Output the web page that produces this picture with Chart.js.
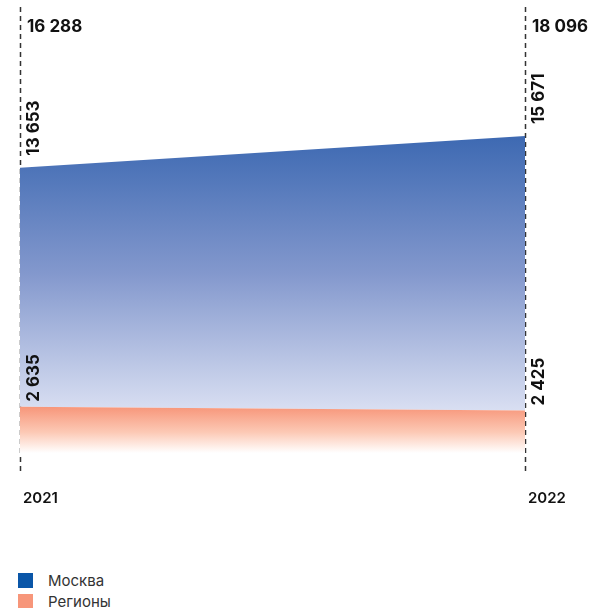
<!DOCTYPE html>
<html>
<head>
<meta charset="utf-8">
<script src="https://cdn.jsdelivr.net/npm/chart.js@4"></script>
<style>
  html, body { margin: 0; padding: 0; background: #fff; }
  #wrap { position: relative; width: 595px; height: 560px; }
  #legend { position: absolute; left: 18px; top: 570px; font-family: Inter, "Noto Sans", sans-serif; font-size: 15px; color: #333; }
  .item { display: flex; align-items: center; height: 21px; }
  .sw { width: 15px; height: 15px; margin-right: 15px; }
</style>
</head>
<body>
<div id="wrap"><canvas id="c"></canvas></div>
<div id="legend"></div>
<script>
const categories = ['2021', '2022'];
const moscow = [13653, 15671];
const regions = [2635, 2425];
const totals = [16288, 18096];
const seriesNames = ['Москва', 'Регионы'];
const legendColors = ['#0a56a8', '#f7967a'];

function fmt(v) { return String(v).replace(/\B(?=(\d{3})+(?!\d))/g, ' '); }

const FONT = 'Inter, "Noto Sans", sans-serif';

const blueFill = (ctx) => {
  const chart = ctx.chart;
  const a = chart.chartArea;
  if (!a) return '#5a7fc0';
  const y = chart.scales.y;
  const top = y.getPixelForValue(Math.max(...totals));
  const bot = y.getPixelForValue(Math.min(...regions));
  const g = chart.ctx.createLinearGradient(0, top, 0, bot);
  g.addColorStop(0, '#3d69b2');
  g.addColorStop(0.5, '#8398cd');
  g.addColorStop(1, '#d9dff2');
  return g;
};
const orangeFill = (ctx) => {
  const chart = ctx.chart;
  const a = chart.chartArea;
  if (!a) return '#f7967a';
  const y = chart.scales.y;
  const top = y.getPixelForValue(Math.max(...regions));
  const bot = y.getPixelForValue(0);
  const g = chart.ctx.createLinearGradient(0, top, 0, bot);
  g.addColorStop(0, '#f7967a');
  g.addColorStop(0.55, '#fcc9b5');
  g.addColorStop(1, 'rgba(255,255,255,1)');
  return g;
};

const overlay = {
  id: 'overlay',
  beforeDatasetsDraw(chart) {
    const c = chart.ctx, x = chart.scales.x, a = chart.chartArea;
    c.save();
    c.strokeStyle = '#333';
    c.lineWidth = 1.5;
    c.setLineDash([5, 4]);
    categories.forEach((_, i) => {
      const px = Math.round(x.getPixelForValue(i)) + 0.5;
      c.beginPath();
      c.moveTo(px, a.top - 8);
      c.lineTo(px, a.bottom + 21);
      c.stroke();
    });
    c.restore();
  },
  afterDatasetsDraw(chart) {
    const c = chart.ctx, x = chart.scales.x, y = chart.scales.y, a = chart.chartArea;
    c.save();
    c.fillStyle = '#111';
    categories.forEach((cat, i) => {
      const px = x.getPixelForValue(i);
      // totals
      c.font = '700 17px ' + FONT;
      c.textAlign = 'left';
      c.textBaseline = 'middle';
      c.fillText(fmt(totals[i]), px + 7, a.top + 12);
      // year labels
      c.font = '600 15px ' + FONT;
      c.fillText(cat, px + 3, a.bottom + 45);
      // rotated values
      c.font = '700 17px ' + FONT;
      const drawRot = (val, ypix) => {
        c.save();
        c.translate(px + 14, ypix);
        c.rotate(-Math.PI / 2);
        c.textAlign = 'left';
        c.textBaseline = 'middle';
        c.fillText(fmt(val), 0, 0);
        c.restore();
      };
      drawRot(moscow[i], y.getPixelForValue(totals[i]) - 12);
      drawRot(regions[i], y.getPixelForValue(regions[i]) - 5);
    });
    c.restore();
  }
};

new Chart(document.getElementById('c'), {
  type: 'line',
  data: {
    labels: categories,
    datasets: [
      { label: seriesNames[1], data: regions, fill: 'origin', backgroundColor: orangeFill, borderWidth: 0, pointRadius: 0, tension: 0 },
      { label: seriesNames[0], data: moscow, fill: '-1', backgroundColor: blueFill, borderWidth: 0, pointRadius: 0, tension: 0 }
    ]
  },
  options: {
    responsive: true,
    maintainAspectRatio: false,
    animation: false,
    layout: { padding: { left: 20, right: 70, top: 15, bottom: 107 } },
    plugins: { legend: { display: false }, tooltip: { enabled: false } },
    scales: {
      x: { type: 'category', display: false, offset: false },
      y: { stacked: true, display: false, min: 0, max: 25000 }
    }
  },
  plugins: [overlay]
});

const lg = document.getElementById('legend');
seriesNames.forEach((n, i) => {
  const d = document.createElement('div');
  d.className = 'item';
  d.innerHTML = '<span class="sw" style="background:' + legendColors[i] + '"></span><span>' + n + '</span>';
  lg.appendChild(d);
});
</script>
</body>
</html>
